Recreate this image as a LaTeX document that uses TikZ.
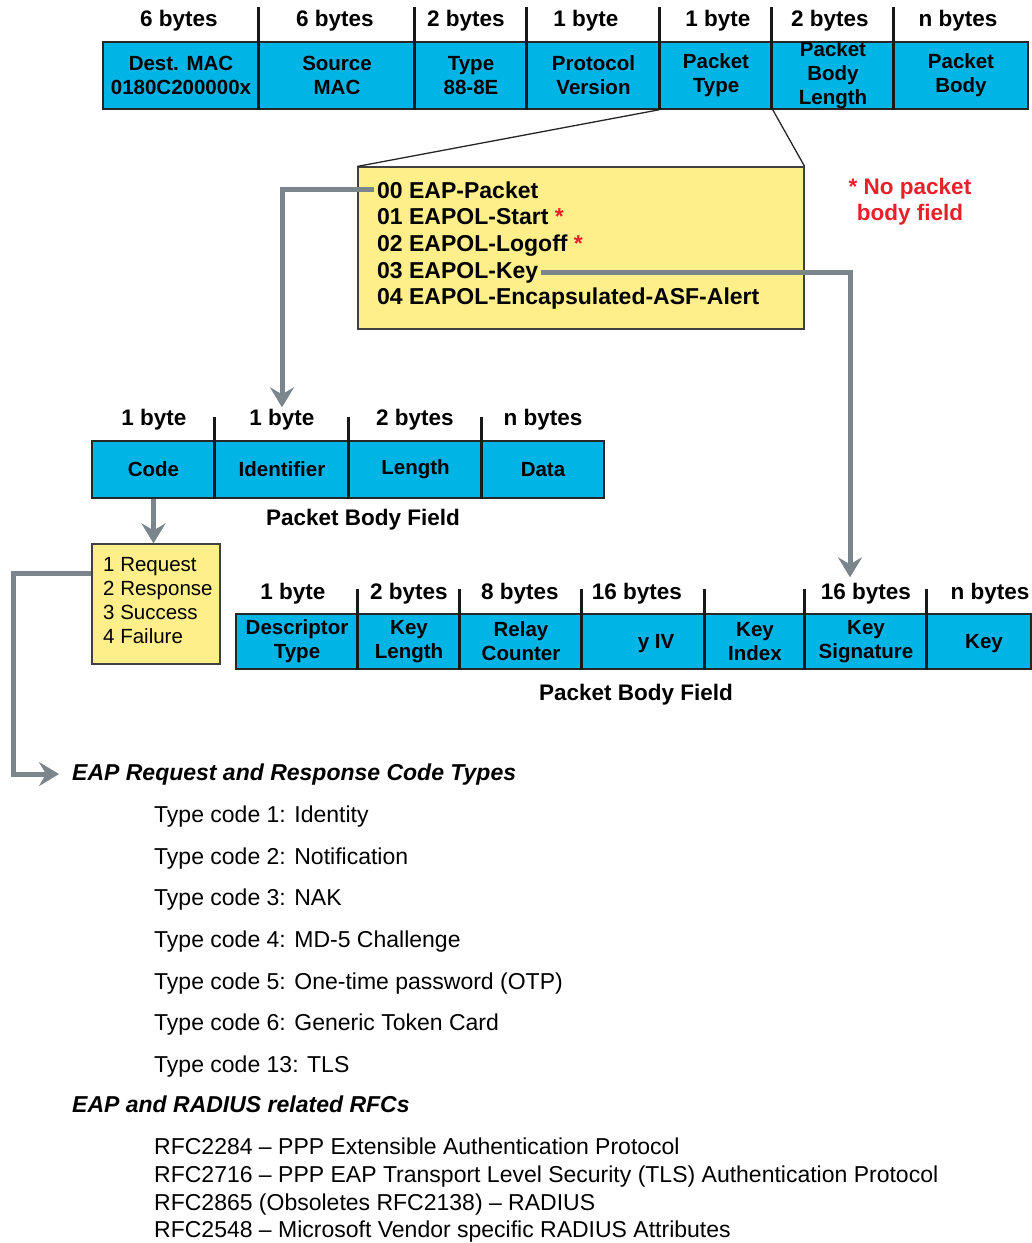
\documentclass[tikz,border=0pt]{standalone}
\usepackage{fontspec}
\setmainfont{Liberation Sans}
\usetikzlibrary{arrows.meta,calc}
\definecolor{cyanf}{HTML}{00B5E6}
\definecolor{yel}{HTML}{FFEF8A}
\definecolor{garr}{HTML}{7B858C}
\definecolor{nred}{HTML}{E8202A}
\begin{document}
\begin{tikzpicture}[x=1pt,y=-1pt,
  cell/.style={draw=black!85, line width=1.5pt, fill=cyanf, inner sep=0pt, align=center,
    font=\fontsize{20.5}{24}\selectfont\bfseries},
  byt/.style={font=\fontsize{22.5}{26}\selectfont\bfseries, inner sep=2pt},
  divl/.style={line width=3pt, black!90},
  ybox/.style={draw=black!75, line width=1.2pt, fill=yel, inner sep=0pt},
  ytext/.style={font=\fontsize{23}{26}\selectfont\bfseries, inner sep=3pt, anchor=base west},
  trap/.style={line width=1.3pt, black!85},
  garrow/.style={draw=garr, line width=5pt, -{Stealth[length=20pt,width=24pt,inset=7pt]}},
  bodyt/.style={font=\fontsize{23}{27}\selectfont, inner sep=3pt, anchor=base west},
  hd/.style={font=\fontsize{23}{27}\selectfont\bfseries\itshape, inner sep=3pt, anchor=base west}
]
\useasboundingbox (0,0) rectangle (1032,1243);

% ---------- top frame ----------
\node[cell, minimum width=156, minimum height=67] (dmac) at (181,75.5) {Dest. MAC\\0180C200000x};
\node[cell, minimum width=156, minimum height=67] (smac) at (337,75.5) {Source\\MAC};
\node[cell, minimum width=112, minimum height=67] (etype) at (471,75.5) {Type\\88-8E};
\node[cell, minimum width=133, minimum height=67] (pver) at (593.5,75.5) {Protocol\\Version};
\node[cell, minimum width=112, minimum height=67] (ptype) at (716,75.5) {Packet\\Type};
\node[cell, minimum width=122, minimum height=67] (pblen) at (833,75.5) {Packet\\Body\\Length};
\node[cell, minimum width=134, minimum height=67] (pbody) at (961,75.5) {Packet\\Body};
\foreach \c in {smac,etype,pver,ptype,pblen,pbody}
  \draw[divl] (\c.south west) -- ($(\c.north west)+(0,-34)$);
\node[byt] (t1) at (179,21) {6 bytes};
\node[byt] (t2) at (335,21) {6 bytes};
\node[byt] (t3) at (466,21) {2 bytes};
\node[byt] (t4) at (586,21) {1 byte};
\node[byt] (t5) at (718,21) {1 byte};
\node[byt] (t6) at (830,21) {2 bytes};
\node[byt] (t7) at (958,21) {n bytes};

% ---------- packet type box ----------
\node[ybox, minimum width=446, minimum height=162] (ptbox) at (581,248) {};
\draw[trap] (ptype.south west) -- (ptbox.north west);
\draw[trap] (ptype.south east) -- (ptbox.north east);
\node[ytext] (l0) at (374,198) {00 EAP-Packet};
\node[ytext] (l1) at (374,224) {01 EAPOL-Start {\color{nred}*}};
\node[ytext] (l2) at (374,251) {02 EAPOL-Logoff {\color{nred}*}};
\node[ytext] (l3) at (374,278) {03 EAPOL-Key};
\node[ytext] (l4) at (374,304) {04 EAPOL-Encapsulated-ASF-Alert};
\node[font=\fontsize{22.5}{26}\selectfont\bfseries, text=nred, align=center] (note) at (910,202) {* No packet\\body field};

% ---------- EAP packet body ----------
\node[cell, minimum width=123, minimum height=57] (code) at (153.5,469.5) {Code};
\node[cell, minimum width=134, minimum height=57] (ident) at (282,469.5) {Identifier};
\node[cell, minimum width=133, minimum height=57] (elen) at (415.5,469.5) {Length};
\node[cell, minimum width=122, minimum height=57] (edata) at (543,469.5) {Data};
\foreach \c in {ident,elen,edata}
  \draw[divl] (\c.south west) -- ($(\c.north west)+(0,-23)$);
\node[byt] (m1) at (154,420) {1 byte};
\node[byt] (m2) at (282,420) {1 byte};
\node[byt] (m3) at (415,420) {2 bytes};
\node[byt] (m4) at (543,420) {n bytes};
\node[byt] (pbf1) at (363,520) {Packet Body Field};

% ---------- code box ----------
\node[ybox, minimum width=128, minimum height=120] (codes) at (156,604) {};
\node[anchor=west, align=left, font=\fontsize{20.5}{23.7}\selectfont, inner sep=0pt] (codetxt) at (103,600.5)
  {1 Request\\2 Response\\3 Success\\4 Failure};

% ---------- EAPOL-Key body ----------
\node[cell, minimum width=122, minimum height=55] (dtype) at (297,641.5) {Descriptor\\Type};
\node[cell, minimum width=102, minimum height=55] (klen) at (409,641.5) {Key\\Length};
\node[cell, minimum width=122, minimum height=55] (rctr) at (521,641.5) {Relay\\Counter};
\node[cell, minimum width=123, minimum height=55] (kiv) at (643.5,641.5) {};
\node[cell, minimum width=100, minimum height=55] (kidx) at (755,641.5) {Key\\Index};
\node[cell, minimum width=122, minimum height=55] (ksig) at (866,641.5) {Key\\Signature};
\node[cell, minimum width=104, minimum height=55] (kkey) at (979,641.5) {};
\node[font=\fontsize{20.5}{24}\selectfont\bfseries] (ivt) at (656,644) {y IV};
\node[font=\fontsize{20.5}{24}\selectfont\bfseries] (keyt) at (984,644) {Key};
\foreach \c in {klen,rctr,kiv,kidx,ksig,kkey}
  \draw[divl] (\c.south west) -- ($(\c.north west)+(0,-24)$);
\node[byt] (b1) at (293,594) {1 byte};
\node[byt] (b2) at (409,594) {2 bytes};
\node[byt] (b3) at (520,594) {8 bytes};
\node[byt] (b4) at (637,594) {16 bytes};
\node[byt] (b6) at (866,594) {16 bytes};
\node[byt] (b7) at (990,594) {n bytes};
\node[byt] (pbf2) at (636,695) {Packet Body Field};

% ---------- lists ----------
\node[hd] (hd1) at (69,780) {EAP Request and Response Code Types};
\node[bodyt] (tc1) at (151,822) {Type code 1: Identity};
\node[bodyt] (tc2) at (151,864) {Type code 2: Notification};
\node[bodyt] (tc3) at (151,905) {Type code 3: NAK};
\node[bodyt] (tc4) at (151,947) {Type code 4: MD-5 Challenge};
\node[bodyt] (tc5) at (151,989) {Type code 5: One-time password (OTP)};
\node[bodyt] (tc6) at (151,1030) {Type code 6: Generic Token Card};
\node[bodyt] (tc13) at (151,1072) {Type code 13: TLS};
\node[hd] (hd2) at (69,1112) {EAP and RADIUS related RFCs};
\node[bodyt] (r1) at (151,1154) {RFC2284 – PPP Extensible Authentication Protocol};
\node[bodyt] (r2) at (151,1182) {RFC2716 – PPP EAP Transport Level Security (TLS) Authentication Protocol};
\node[bodyt] (r3) at (151,1210) {RFC2865 (Obsoletes RFC2138) – RADIUS};
\node[bodyt] (r4) at (151,1237) {RFC2548 – Microsoft Vendor specific RADIUS Attributes};

% ---------- arrows ----------
\draw[garrow] (l0.west) -| (m2.north);
\draw[garrow] (l3.east) -| ($(b6.north)+(-16,-4)$);
\draw[garrow] (code.south) -- (code.south |- codes.north);
\draw[garrow, shorten >=10pt] ($(codes.north west)+(0,30)$) -- ++(-78,0) |- (hd1.west);
\end{tikzpicture}
\end{document}
